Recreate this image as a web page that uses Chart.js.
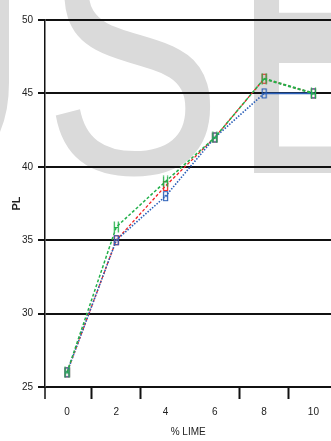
<!DOCTYPE html>
<html>
<head>
<meta charset="utf-8">
<script src="https://cdn.jsdelivr.net/npm/chart.js@4/dist/chart.umd.min.js"></script>
<style>
  html, body { margin: 0; padding: 0; background: #fff; overflow: hidden; width: 331px; height: 441px; }
  #wrap { position: relative; width: 337px; height: 441px; }
</style>
</head>
<body>
<div id="wrap"><canvas id="c" width="337" height="441"></canvas></div>
<script>
// % lime added vs. plasticity limit, three test series
const limePct = [0, 2, 4, 6, 8, 10];
const plRed   = [26, 35, 38.7, 42, 46, 45];
const plGreen = [26, 35.9, 39, 42, 46, 45];
const plBlue  = [26, 35, 38, 42, 45, 45];

// axis ticks
const yTicks = [25, 30, 35, 40, 45, 50];
const xLabelValues = [0, 2, 4, 6, 8, 10];
const xTickMarks = [1, 3, 7, 9];

const narrow = '"Liberation Sans Narrow", "Liberation Sans", Arial, sans-serif';

// small outlined markers
function marker(color, kind) {
  const c = document.createElement('canvas');
  c.width = 7; c.height = 12;
  const g = c.getContext('2d');
  g.strokeStyle = color;
  g.lineWidth = 1.2;
  g.beginPath();
  if (kind === 'H') {
    g.moveTo(1.5, 0.5); g.lineTo(1.5, 11.5);
    g.moveTo(5.5, 0.5); g.lineTo(5.5, 11.5);
    g.moveTo(1.5, 6.5); g.lineTo(5.5, 6.5);
  } else {
    g.rect(1.5, 1.5, 4, 9);
    if (kind === 'B') { g.moveTo(1.5, 6); g.lineTo(5.5, 6); }
  }
  g.stroke();
  return c;
}

const toPoints = ys => limePct.map((x, i) => ({ x: x, y: ys[i] }));

const decor = {
  id: 'decor',
  beforeDraw(chart) {
    // large pale lettering behind the plot
    const ctx = chart.ctx;
    ctx.save();
    ctx.fillStyle = '#dadada';
    ctx.font = '268px "Liberation Sans", Arial, sans-serif';
    ctx.textBaseline = 'alphabetic';
    const base = 173, sy = 1.3;
    const place = [['U', 'right', 12], ['S', 'left', 52], ['E', 'left', 253]];
    for (const [ch, side, x] of place) {
      const m = ctx.measureText(ch);
      const dx = side === 'left' ? x + m.actualBoundingBoxLeft : x - m.actualBoundingBoxRight;
      ctx.save();
      ctx.translate(dx, base);
      ctx.scale(1, sy);
      ctx.fillText(ch, 0, 0);
      ctx.restore();
      if (ch === 'E') {
        // heavier middle bar on the E
        ctx.save();
        ctx.beginPath();
        ctx.rect(0, 0, chart.width, 60);
        ctx.clip();
        ctx.translate(dx, base - 24);
        ctx.scale(1, sy);
        ctx.fillText(ch, 0, 0);
        ctx.restore();
      }
    }
    ctx.restore();
  },
  afterDraw(chart) {
    // y axis line runs on past the bottom grid line
    const { ctx, chartArea: { left, bottom } } = chart;
    ctx.save();
    ctx.strokeStyle = '#111';
    ctx.lineWidth = 1.5;
    ctx.beginPath();
    ctx.moveTo(left, bottom);
    ctx.lineTo(left, bottom + 12);
    ctx.stroke();
    ctx.restore();
  }
};

new Chart(document.getElementById('c'), {
  type: 'line',
  data: {
    datasets: [
      {
        label: 'A', data: toPoints(plGreen), order: 0,
        borderColor: '#22b04a', borderWidth: 1.5, borderDash: [3, 2],
        pointStyle: marker('#22b04a', 'H'), pointRadius: 4,
        segment: { borderWidth: c => c.p1DataIndex === 5 ? 2.2 : 1.5 }
      },
      {
        label: 'B', data: toPoints(plBlue), order: 1,
        borderColor: '#2a5fb8', borderWidth: 1.6, borderDash: [1.5, 1.5],
        pointStyle: marker('#2a5fb8', 'B'), pointRadius: 4,
        segment: { borderDash: c => c.p1DataIndex === 5 ? [] : [1.5, 1.5] }
      },
      {
        label: 'C', data: toPoints(plRed), order: 2,
        borderColor: '#ee2222', borderWidth: 1.3, borderDash: [3, 2],
        pointStyle: marker('#ee2222', 'R'), pointRadius: 4
      }
    ]
  },
  options: {
    responsive: false,
    devicePixelRatio: 1,
    animation: false,
    events: [],
    layout: { padding: { top: 20, right: 0, bottom: 0, left: 0 } },
    plugins: { legend: { display: false }, tooltip: { enabled: false } },
    elements: { line: { tension: 0, fill: false } },
    scales: {
      x: {
        type: 'linear', min: -0.894, max: 10.73,
        afterBuildTicks: s => {
          s.ticks = [...new Set([...xLabelValues, ...xTickMarks])].sort((a, b) => a - b).map(v => ({ value: v }));
        },
        afterFit: s => { s.height = 54; s.paddingLeft = 0; s.paddingRight = 0; },
        grid: {
          drawOnChartArea: false, tickLength: 12, tickWidth: 2,
          tickColor: c => (c.tick && xTickMarks.includes(c.tick.value)) ? '#111' : 'rgba(0,0,0,0)'
        },
        border: { display: false },
        ticks: {
          autoSkip: false, maxRotation: 0, padding: 7, color: '#222',
          font: { family: narrow, size: 10 },
          callback: v => xLabelValues.includes(v) ? String(v) : ''
        },
        title: {
          display: true, text: '% LIME', color: '#222',
          font: { family: narrow, size: 10 }, padding: { top: 0, bottom: 3 }
        }
      },
      y: {
        min: 25, max: 50,
        afterBuildTicks: s => { s.ticks = yTicks.map(v => ({ value: v })); },
        afterFit: s => { s.width = 45; s.paddingTop = 0; s.paddingBottom = 0; },
        grid: { color: '#111', lineWidth: 2, tickLength: 7, tickColor: '#111', tickWidth: 2 },
        border: { display: true, color: '#111', width: 1.5 },
        ticks: { padding: 5, color: '#222', font: { family: narrow, size: 10 } },
        title: {
          display: true, text: 'PL', color: '#222',
          font: { family: narrow, size: 11, weight: 'bold' }, padding: { top: 10, bottom: 0 }
        }
      }
    }
  },
  plugins: [decor]
});
</script>
</body>
</html>
